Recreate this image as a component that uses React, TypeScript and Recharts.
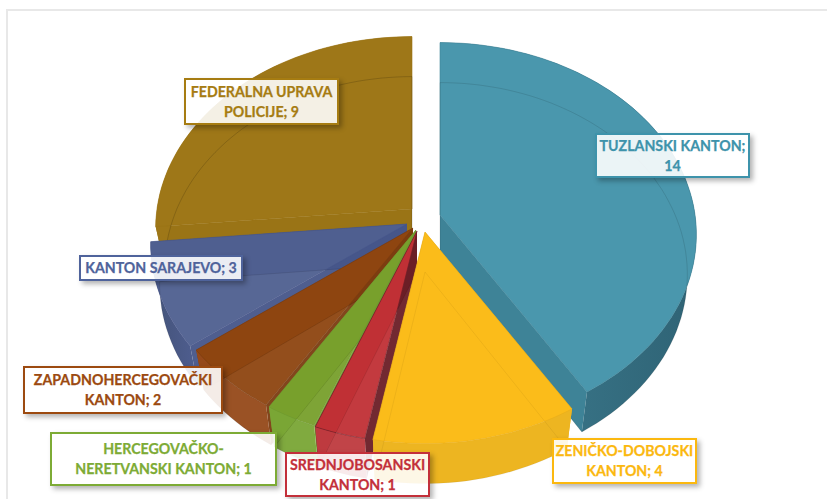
import { Pie, PieChart } from "recharts";

const categories = [
  "TUZLANSKI KANTON",
  "ZENIČKO-DOBOJSKI KANTON",
  "SREDNJOBOSANSKI KANTON",
  "HERCEGOVAČKO-NERETVANSKI KANTON",
  "ZAPADNOHERCEGOVAČKI KANTON",
  "KANTON SARAJEVO",
  "FEDERALNA UPRAVA POLICIJE",
];
const values = [14, 4, 1, 1, 2, 3, 9];

const topColors = ["#4A97AD", "#FBBC1A", "#C03035", "#78A02C", "#8E4510", "#4F5F90", "#9E7718"];
const wallLeft = ["#3F8195", "#EDB521", "#BE3A3F", "#7AA635", "#95491A", "#3A4A72", "#9E7718"];
const wallRight = ["#2F6375", "#EDB521", "#BE3A3F", "#7AA635", "#95491A", "#46568A", "#9E7718"];
const sideColors = ["#3E8397", "#E9AE1B", "#6B1E26", "#6E9A30", "#7C3D10", "#46568A", "#9A7416"];
const textColors = ["#3E93AB", "#FBB80F", "#C3303A", "#7DAB35", "#9C4A10", "#4F639B", "#A67C12"];
const ghostFill = [0, 0, 0.05, 0.05, 0.05, 0.05, 0];
const ghostLine = [0.14, 0.07, 0.12, 0.12, 0.14, 0.12, 0.2];

// how far each slice is pulled out of the pie, on screen
const explode = [[20, -7], [5, 10], [-3, 9], [-4, 8], [-7, 6], [-13, 2], [-8, -13]];
// back slices first so the front ones cover them
const paintOrder = [6, 0, 5, 4, 3, 2, 1];

const labelLines = [
  ["TUZLANSKI KANTON;", "14"],
  ["ZENIČKO-DOBOJSKI", "KANTON; 4"],
  ["SREDNJOBOSANSKI", "KANTON; 1"],
  ["HERCEGOVAČKO-", "NERETVANSKI KANTON; 1"],
  ["ZAPADNOHERCEGOVAČKI", "KANTON; 2"],
  ["KANTON SARAJEVO; 3"],
  ["FEDERALNA UPRAVA", "POLICIJE; 9"],
];
const labelBoxes = [
  [595, 133, 155, 45],
  [552, 438, 145, 46],
  [285, 452, 145, 45],
  [50, 432, 227, 54],
  [23, 366, 200, 48],
  [79, 255, 164, 26],
  [184, 78, 155, 47],
];

const data = categories.map((name, i) => ({ name, value: values[i] }));

const TILT = 0.745;
const PERSPECTIVE = 0.0004;
const DEPTH = 40;
const BOTTOM_SCALE = 0.965;

function sliceShape(target: number) {
  return function SliceShape(props: any) {
    const { index, cx, cy, outerRadius, startAngle, endAngle } = props;
    if (index !== target) return null;
    const [dx, dy] = explode[target];

    // the lower face sits further from the eye, so it is a bit narrower
    const project = (angle: number, r: number, drop = 0) => {
      const rad = (angle * Math.PI) / 180;
      const X = r * Math.cos(rad);
      const Y = -r * Math.sin(rad);
      const w = 1 / (1 - PERSPECTIVE * Y);
      const narrow = drop ? BOTTOM_SCALE : 1;
      return [cx + dx + X * w * narrow, cy + dy + TILT * Y * w + drop];
    };

    const arc = (drop: number) => {
      const pts = [];
      const steps = Math.max(4, Math.ceil(Math.abs(endAngle - startAngle) / 2));
      for (let s = 0; s <= steps; s++) {
        pts.push(project(startAngle + ((endAngle - startAngle) * s) / steps, outerRadius, drop));
      }
      return pts;
    };
    const toPath = (pts: number[][]) =>
      "M" + pts.map((p) => `${p[0].toFixed(1)},${p[1].toFixed(1)}`).join("L") + "Z";

    const top = arc(0);
    const bottom = arc(DEPTH);
    const apex = project(0, 0);
    const apexLow = project(0, 0, DEPTH);
    const ghost = [apexLow, ...bottom];
    const outerWall = [...top, ...[...bottom].reverse()];
    const wallStart = [apex, top[0], bottom[0], apexLow];
    const wallEnd = [apex, top[top.length - 1], bottom[bottom.length - 1], apexLow];
    const gradId = `wall-${target}`;

    return (
      <g>
        <defs>
          <linearGradient id={gradId} x1="0" y1="0" x2="1" y2="0">
            <stop offset="0%" stopColor={wallLeft[target]} />
            <stop offset="100%" stopColor={wallRight[target]} />
          </linearGradient>
        </defs>
        <path d={toPath(wallStart)} fill={sideColors[target]} />
        <path d={toPath(wallEnd)} fill={sideColors[target]} />
        <path d={toPath(outerWall)} fill={`url(#${gradId})`} />
        <path d={toPath([apex, ...top])} fill={topColors[target]} stroke={sideColors[target]} strokeWidth={0.6} />
        <path
          d={toPath(ghost)}
          fill="#fff"
          fillOpacity={ghostFill[target]}
          stroke="#000"
          strokeOpacity={ghostLine[target]}
          strokeWidth={0.8}
        />
      </g>
    );
  };
}

export default function App() {
  return (
    <div style={{ position: "absolute", left: 0, top: 0, width: 827, height: 499, background: "#fff", overflow: "hidden" }}>
      <div style={{ position: "absolute", left: 6, top: 9, width: 830, height: 500, border: "2px solid #e8e8e8" }} />
      <div style={{ position: "absolute", left: 0, top: 0 }}>
        <PieChart width={827} height={499} margin={{ top: 0, right: 0, bottom: 0, left: 0 }}>
          {paintOrder.map((i) => (
            <Pie
              key={i}
              data={data}
              dataKey="value"
              nameKey="name"
              cx={420}
              cy={222}
              outerRadius={255}
              startAngle={90}
              endAngle={-270}
              stroke="none"
              shape={sliceShape(i)}
              isAnimationActive={false}
            />
          ))}
        </PieChart>
      </div>
      {labelLines.map((lines, i) => {
        const [x, y, w, h] = labelBoxes[i];
        return (
          <div
            key={i}
            style={{
              position: "absolute",
              left: x,
              top: y,
              width: w,
              height: h,
              boxSizing: "border-box",
              border: `2px solid ${textColors[i]}`,
              background: "rgba(255,255,255,0.89)",
              boxShadow: "3px 3px 5px rgba(0,0,0,0.3)",
              color: textColors[i],
              fontFamily: "Lato, sans-serif",
              fontWeight: 700,
              fontSize: 14.2,
              WebkitTextStroke: "0.25px currentColor",
              lineHeight: "20px",
              textAlign: "center",
              display: "flex",
              flexDirection: "column",
              justifyContent: "center",
              whiteSpace: "nowrap",
            }}
          >
            {lines.map((l) => (
              <div key={l}>{l}</div>
            ))}
          </div>
        );
      })}
    </div>
  );
}
